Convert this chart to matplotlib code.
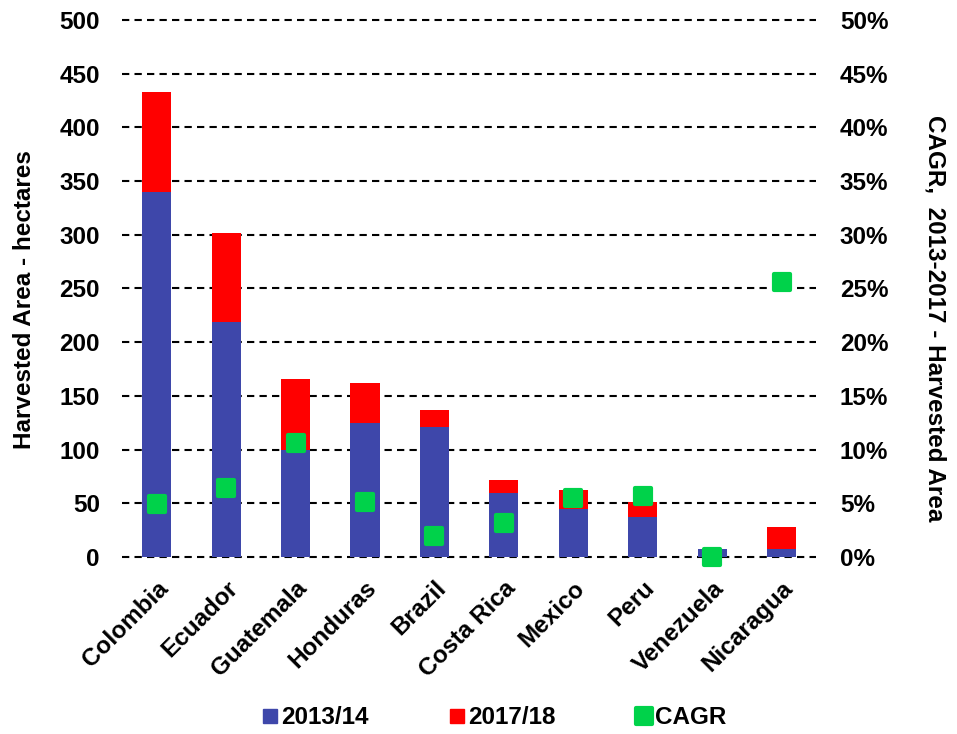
import numpy as np
import matplotlib.pyplot as plt
from matplotlib.lines import Line2D
from matplotlib.markers import MarkerStyle
from matplotlib.ticker import FuncFormatter

plt.rcParams["font.family"] = ["Liberation Sans", "DejaVu Sans"]
plt.rcParams["font.weight"] = "bold"

# Data
countries = ["Colombia", "Ecuador", "Guatemala", "Honduras", "Brazil",
             "Costa Rica", "Mexico", "Peru", "Venezuela", "Nicaragua"]
area_2013 = [340, 219, 100, 125, 121, 60, 45, 37, 8, 8]
area_2017 = [433, 302, 166, 162, 137, 72, 62, 51, 8, 28]
cagr = [4.9, 6.4, 10.6, 5.1, 2.0, 3.2, 5.5, 5.7, 0.0, 25.6]

blue = "#3E47AA"
red = "#FF0000"
green = "#00D24A"
fs = 17.5

fig = plt.figure(figsize=(9.57, 7.34), dpi=100)
ax = fig.add_axes([0.1275, 0.241, 0.7255, 0.732])
x = np.arange(len(countries))

# grid
for v in range(0, 501, 50):
    ax.axhline(v, color="black", lw=1.5, ls=(0, (3.5, 2.5)), zorder=1, clip_on=False)

ax.bar(x, area_2017, width=0.42, color=red, zorder=2)
ax.bar(x, area_2013, width=0.42, color=blue, zorder=3)

ax.set_xlim(-0.5, 9.5)
ax.set_ylim(0, 500)
ax.set_yticks(range(0, 501, 50))
ax.tick_params(axis="y", length=0, pad=16, labelsize=fs)
ax.tick_params(axis="x", length=0, pad=14, labelsize=fs)
ax.set_xticks(x)
ax.set_xticklabels(countries, rotation=45, ha="right", rotation_mode="anchor")
for s in ax.spines.values():
    s.set_visible(False)

rounded_sq = MarkerStyle("s", joinstyle="round")

ax2 = ax.twinx()
ax2.plot(x, cagr, ls="none", marker=rounded_sq, ms=12, color=green,
         mec=green, mew=3, zorder=5, clip_on=False)
ax2.set_ylim(0, 50)
ax2.set_yticks(range(0, 51, 5))
ax2.yaxis.set_major_formatter(FuncFormatter(lambda v, p: f"{v:.0f}%"))
ax2.tick_params(axis="y", length=0, pad=17, labelsize=fs)
for s in ax2.spines.values():
    s.set_visible(False)

# axis titles
fig.text(25 / 957, 1 - 300 / 734, "Harvested Area - hectares", fontsize=fs,
         fontweight="bold", rotation=90, ha="center", va="center")
fig.text(935 / 957, 1 - 318 / 734, "CAGR,  2013-2017 - Harvested Area", fontsize=fs,
         fontweight="bold", rotation=-90, ha="center", va="center")

handles = [
    Line2D([], [], ls="none", marker="s", ms=10, color=blue),
    Line2D([], [], ls="none", marker="s", ms=10, color=red),
    Line2D([], [], ls="none", marker=rounded_sq, ms=12, mew=3, color=green),
]
fig.legend(handles, ["2013/14", "2017/18", "CAGR"], loc="center",
           bbox_to_anchor=(0.516, 0.022), ncol=3, frameon=False,
           prop={"size": fs, "weight": "bold"}, handletextpad=0.1,
           columnspacing=3.3, handlelength=0.7)

fig.savefig("out.png", dpi=100)
